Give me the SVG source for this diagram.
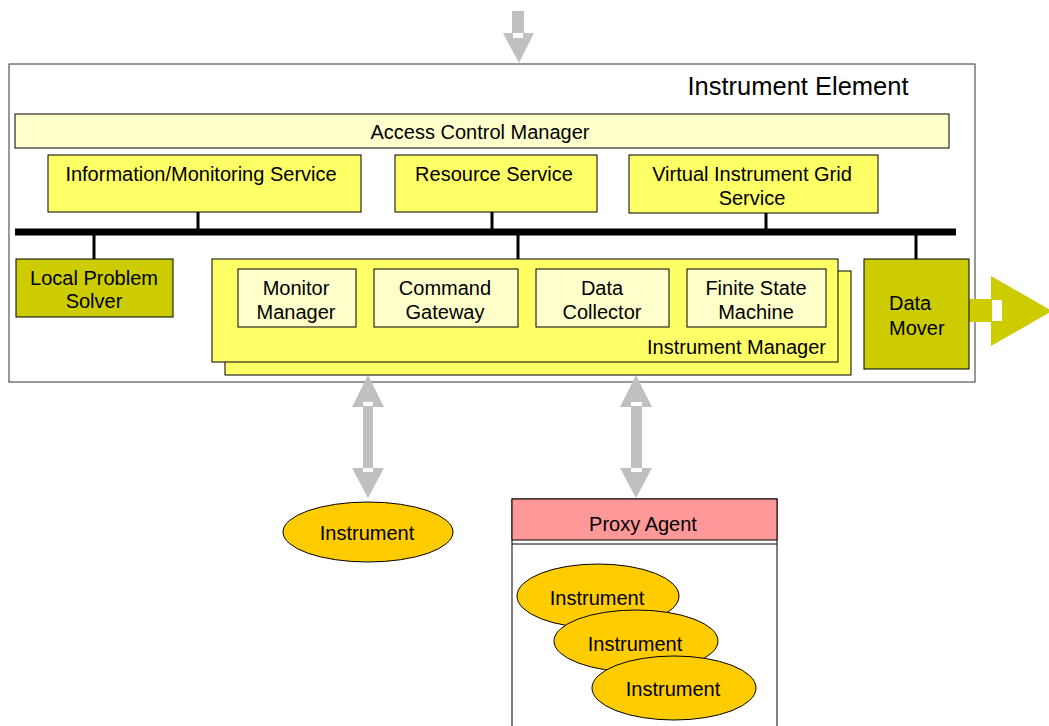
<svg xmlns="http://www.w3.org/2000/svg" width="1049" height="726" viewBox="0 0 1049 726">
<style>
text{font-family:"Liberation Sans",Arial,sans-serif;font-size:20px;fill:#000;text-anchor:middle}
.b{stroke:#000;stroke-width:1}
.lt{fill:#FFFFCC}
.yl{fill:#FFFF66}
.ol{fill:#CCCC00}
.el{fill:#FFCC00;stroke:#000;stroke-width:1}
.arr{fill:#C0C0C0}
.tick{stroke:#000;stroke-width:3}
</style>
<rect id="instrument-element" x="9" y="64" width="966" height="318" fill="#fff" stroke="#333" stroke-width="1"/>
<text x="798" y="95" style="font-size:25.5px">Instrument Element</text>
<g id="connectors">
<line x1="15" y1="232" x2="956" y2="232" stroke="#000" stroke-width="7"/>
<line class="tick" x1="198" y1="212" x2="198" y2="229"/>
<line class="tick" x1="492" y1="212" x2="492" y2="229"/>
<line class="tick" x1="766" y1="213" x2="766" y2="229"/>
<line class="tick" x1="94" y1="235" x2="94" y2="259"/>
<line class="tick" x1="518" y1="235" x2="518" y2="259"/>
<line class="tick" x1="916" y1="235" x2="916" y2="259"/>
<g class="arr">
<rect x="512" y="11" width="12" height="24"/>
<polygon points="503,33 534,33 519,63"/>
</g>
<rect x="513" y="33" width="10" height="5" fill="#fff"/>
<g class="arr">
<rect x="363" y="405" width="10" height="65"/>
<polygon points="368,375 384,407 352,407"/>
<polygon points="352,468 384,468 368,498"/>
</g>
<rect x="363" y="402" width="10" height="4" fill="#fff"/>
<rect x="363" y="468" width="10" height="4" fill="#fff"/>
<g class="arr">
<rect x="631" y="405" width="11" height="65"/>
<polygon points="636,375 652,407 620,407"/>
<polygon points="620,468 652,468 636,498"/>
</g>
<rect x="631" y="402" width="11" height="4" fill="#fff"/>
<rect x="631" y="468" width="11" height="4" fill="#fff"/>
<g class="ol">
<rect x="969" y="299" width="33" height="23"/>
<polygon points="991,276 1052,311 991,346"/>
</g>
<rect x="992" y="300" width="10" height="21" fill="#fff"/>
</g>
<g id="access-control-manager">
<rect class="lt b" x="15" y="114" width="934" height="34"/>
<text x="480" y="139">Access Control Manager</text>
</g>
<g id="information-monitoring-service">
<rect class="yl b" x="48" y="155" width="313" height="57"/>
<text x="201" y="181">Information/Monitoring Service</text>
</g>
<g id="resource-service">
<rect class="yl b" x="395" y="155" width="202" height="57"/>
<text x="494" y="181">Resource Service</text>
</g>
<g id="virtual-instrument-grid-service">
<rect class="yl b" x="629" y="155" width="249" height="58"/>
<text x="752" y="181">Virtual Instrument Grid</text>
<text x="752" y="205">Service</text>
</g>
<g id="local-problem-solver">
<rect class="ol b" x="16" y="259" width="157" height="58"/>
<text x="94" y="285">Local Problem</text>
<text x="94" y="308">Solver</text>
</g>
<g id="instrument-manager">
<rect class="yl b" x="225" y="271" width="626" height="104"/>
<rect class="yl b" x="212" y="259" width="626" height="103"/>
<text x="826" y="354" style="text-anchor:end">Instrument Manager</text>
</g>
<g id="monitor-manager">
<rect class="lt b" x="238" y="269" width="118" height="58"/>
<text x="296" y="295">Monitor</text>
<text x="296" y="319">Manager</text>
</g>
<g id="command-gateway">
<rect class="lt b" x="374" y="269" width="144" height="58"/>
<text x="445" y="295">Command</text>
<text x="445" y="319">Gateway</text>
</g>
<g id="data-collector">
<rect class="lt b" x="536" y="269" width="133" height="58"/>
<text x="602" y="295">Data</text>
<text x="602" y="319">Collector</text>
</g>
<g id="finite-state-machine">
<rect class="lt b" x="687" y="269" width="139" height="58"/>
<text x="756" y="295">Finite State</text>
<text x="756" y="319">Machine</text>
</g>
<g id="data-mover">
<rect class="ol b" x="864" y="259" width="105" height="110"/>
<text x="889" y="310" style="text-anchor:start">Data</text>
<text x="889" y="335" style="text-anchor:start">Mover</text>
</g>
<g id="instrument">
<ellipse class="el" cx="368" cy="532" rx="85" ry="30"/>
<text x="367" y="540">Instrument</text>
</g>
<g id="proxy-agent">
<rect x="512" y="499" width="265" height="240" fill="#fff" stroke="#000" stroke-width="1"/>
<rect x="512" y="499" width="265" height="41" fill="#FF9999" stroke="#000" stroke-width="1"/>
<line x1="512" y1="544" x2="777" y2="544" stroke="#000" stroke-width="1"/>
<text x="643" y="531">Proxy Agent</text>
</g>
<g id="proxy-instrument-1">
<ellipse class="el" cx="598" cy="596" rx="81" ry="32"/>
<text x="597" y="605">Instrument</text>
</g>
<g id="proxy-instrument-2">
<ellipse class="el" cx="636" cy="641" rx="82" ry="31"/>
<text x="635" y="651">Instrument</text>
</g>
<g id="proxy-instrument-3">
<ellipse class="el" cx="674" cy="688" rx="82" ry="32"/>
<text x="673" y="696">Instrument</text>
</g>
</svg>
